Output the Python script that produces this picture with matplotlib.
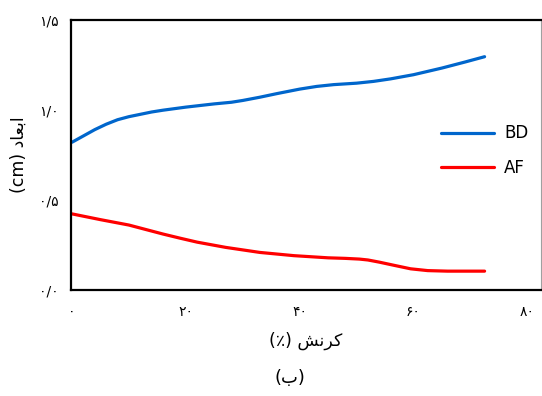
import numpy as np
import matplotlib.pyplot as plt

plt.rcParams['font.family'] = ['DejaVu Sans']

# strain (%) and dimension (cm)
strain_bd = [0, 2, 4, 6, 8, 10, 12, 14, 16, 20, 25, 28, 30, 33, 36, 40, 43, 46, 50, 53, 56, 60, 65, 69, 72.5]
bd = [0.82, 0.855, 0.89, 0.92, 0.945, 0.962, 0.975, 0.988, 0.998, 1.015, 1.033, 1.042, 1.052, 1.07, 1.09,
      1.115, 1.13, 1.14, 1.148, 1.158, 1.172, 1.195, 1.232, 1.265, 1.295]

strain_af = [0, 5, 10, 13, 16, 19, 22, 27, 33, 39, 45, 48, 50.5, 52, 54, 56.5, 59.5, 62.5, 66, 72.5]
af = [0.422, 0.39, 0.36, 0.335, 0.31, 0.287, 0.265, 0.236, 0.208, 0.19, 0.178, 0.175, 0.171, 0.166, 0.154,
      0.137, 0.117, 0.107, 0.104, 0.104]

xticks = [0, 20, 40, 60, 80]
xtick_labels = ['۰', '۲۰', '۴۰', '۶۰', '۸۰']
yticks = [0, 0.5, 1.0, 1.5]
ytick_labels = ['۰/۰', '۰/۵', '۱/۰', '۱/۵']

# Persian labels in visual (left-to-right) order with presentation forms
xlabel = '(٪) \ufeb6\ufee7\ufeae\ufb90'
ylabel = '(cm) \ufea9\ufe8e\ufecc\ufe91\ufe8d'
caption = '(\ufe8f)'

fig = plt.figure(figsize=(5.42, 3.96), dpi=100)
ax = fig.add_axes([0.131, 0.268, 0.867, 0.682])

ax.plot(strain_bd, bd, color='#0066cc', linewidth=2.3, label='BD',
        solid_capstyle='round', solid_joinstyle='round')
ax.plot(strain_af, af, color='#ff0000', linewidth=2.3, label='AF',
        solid_capstyle='round', solid_joinstyle='round')

ax.set_xlim(-0.18, 82.4)
ax.set_ylim(0, 1.5)
ax.set_xticks(xticks)
ax.set_xticklabels(xtick_labels, fontsize=10)
ax.set_yticks(yticks)
ax.set_yticklabels(ytick_labels, fontsize=10)
ax.tick_params(axis='x', length=0, pad=11)
ax.tick_params(axis='y', length=0, pad=9)

for side in ['left', 'top', 'bottom']:
    ax.spines[side].set_linewidth(1.6)
    ax.spines[side].set_color('black')
ax.spines['right'].set_linewidth(0.8)
ax.spines['right'].set_color('#a0a0a0')

ax.set_xlabel(xlabel, fontsize=12.5, labelpad=9)
ax.set_ylabel(ylabel, fontsize=12.5, labelpad=8)

ax.legend(loc='center left', bbox_to_anchor=(0.755, 0.515), frameon=False,
          fontsize=12, handlelength=3.2, labelspacing=1.0, handletextpad=0.6)

fig.text(0.535, 0.045, caption, ha='center', va='center', fontsize=13)

plt.savefig('out.png', dpi=100)
